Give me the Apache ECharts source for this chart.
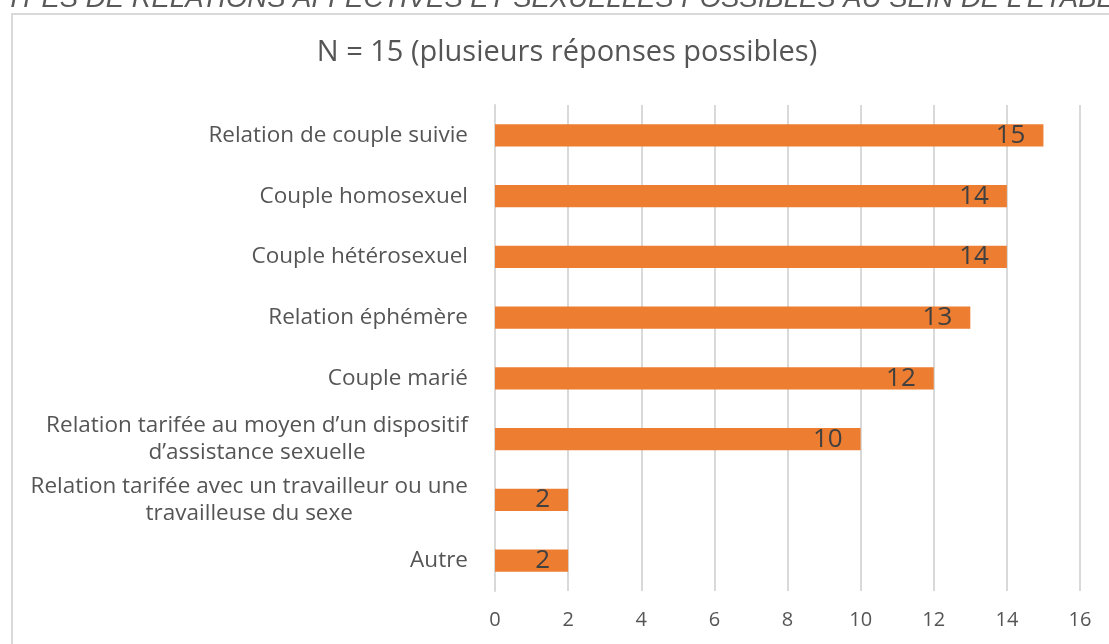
<!doctype html>
<html>
<head>
<meta charset="utf-8">
<title>Types de relations</title>
<style>
  html, body { margin: 0; padding: 0; background: #fff; }
  #main { width: 1109px; height: 644px; }
</style>
</head>
<body>
<div id="main"></div>
<script src="https://cdn.jsdelivr.net/npm/echarts@6/dist/echarts.min.js"></script>
<script>
// categories, bottom to top (ECharts category y axis starts at the bottom)
var categories = [
  'Autre',
  'Relation tarifée avec un travailleur ou une\ntravailleuse du sexe',
  'Relation tarifée au moyen d\u2019un dispositif\nd\u2019assistance sexuelle',
  'Couple marié',
  'Relation éphémère',
  'Couple hétérosexuel',
  'Couple homosexuel',
  'Relation de couple suivie'
];
var values = [2, 2, 10, 12, 13, 14, 14, 15];
var headerText = 'TYPES DE RELATIONS AFFECTIVES ET SEXUELLES POSSIBLES AU SEIN DE L\u2019ETABLISSEMENT';
var titleText = 'N = 15 (plusieurs réponses possibles)';

var font = '"Open Sans", Lato, sans-serif';
var chart = echarts.init(document.getElementById('main'));

chart.setOption({
  animation: false,
  backgroundColor: '#fff',
  graphic: [
    {
      type: 'text', left: -12, top: -14, silent: true,
      style: { text: headerText, font: 'italic 27.5px "Liberation Sans", sans-serif', fill: '#595959' }
    },
    {
      type: 'rect', silent: true,
      shape: { x: 12, y: 14, width: 1200, height: 700 },
      style: { fill: 'none', stroke: '#d9d9d9', lineWidth: 2 }
    },
    {
      type: 'text', silent: true, x: 567, y: 53,
      style: { text: titleText, font: '29px ' + font, fill: '#555555', align: 'center', verticalAlign: 'middle' }
    }
  ],
  grid: { left: 495, right: 29, top: 105, bottom: 53, containLabel: false },
  xAxis: {
    type: 'value', min: 0, max: 16, interval: 2,
    axisLine: { show: false },
    axisTick: { show: false },
    splitLine: { lineStyle: { color: '#d9d9d9', width: 2 } },
    axisLabel: { color: '#555555', fontFamily: font, fontSize: 20, margin: 19 }
  },
  yAxis: {
    type: 'category', data: categories,
    axisLine: { show: true, lineStyle: { color: '#d9d9d9', width: 2 } },
    axisTick: { show: false },
    axisLabel: {
      color: '#555555', fontFamily: font, fontSize: 22.5, margin: 27, lineHeight: 27,
      formatter: function (v) {
        if (v.indexOf('\n') < 0) return v;
        return v.split('\n').map(function (l) { return '{c|' + l + '}'; }).join('\n');
      },
      rich: { c: { align: 'center', color: '#555555', fontFamily: font, fontSize: 22.5, lineHeight: 27 } }
    }
  },
  series: [{
    type: 'bar',
    data: values,
    barCategoryGap: '63%',
    itemStyle: { color: '#ED7D31' },
    label: {
      show: true, position: 'insideRight', distance: 18,
      color: '#404040', fontFamily: font, fontSize: 26
    }
  }]
});
</script>
</body>
</html>
